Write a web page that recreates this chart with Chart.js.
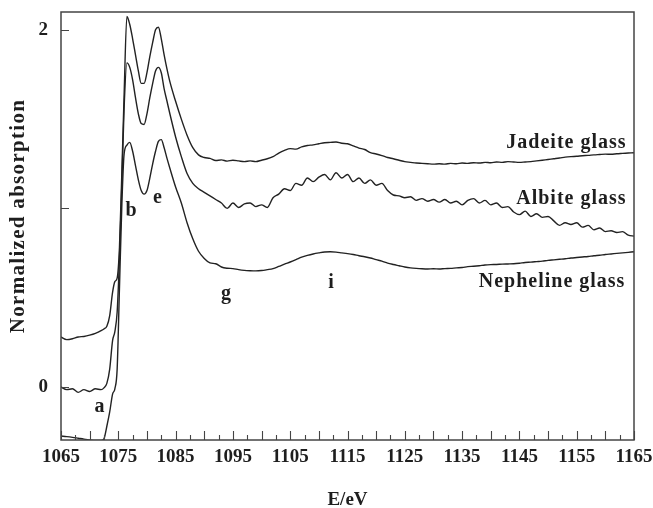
<!DOCTYPE html>
<html><head><meta charset="utf-8">
<script src="https://cdn.jsdelivr.net/npm/chart.js@4.4.1/dist/chart.umd.min.js"></script>
<style>html,body{margin:0;padding:0;background:#fff}canvas{display:block}</style>
</head><body>
<canvas id="c" width="653" height="508"></canvas>
<script>
// ---- data ----
const energy = [1065,1066,1067,1068,1069,1070,1071,1072,1072.5,1073,1073.5,1074,1074.4,1074.8,1075.2,1075.6,
  1076,1076.5,1077,1077.5,1078,1078.5,1079,1079.5,1080,1080.5,1081,1081.5,1082,1082.5,1083,1083.5,
  1084,1085,1086,1087,1088,1089,1090,
  1091,1092,1093,1094,1095,1096,1097,1098,1099,1100,1101,1102,1103,1104,1105,1106,1107,1108,1109,1110,
  1111,1112,1113,1114,1115,1116,1117,1118,1119,1120,1121,1122,1123,1124,1125,1126,1127,1128,1129,1130,
  1131,1132,1133,1134,1135,1136,1137,1138,1139,1140,1141,1142,1143,1144,1145,1146,1147,1148,1149,1150,
  1151,1152,1153,1154,1155,1156,1157,1158,1159,1160,1161,1162,1163,1164,1165];

const jadeite = [0.28,0.265,0.27,0.28,0.283,0.29,0.30,0.315,0.325,0.34,0.40,0.53,0.59,0.61,0.78,1.18,
  1.62,2.075,2.03,1.95,1.86,1.77,1.70,1.70,1.76,1.85,1.93,2.0,2.015,1.95,1.86,1.78,
  1.71,1.60,1.50,1.41,1.34,1.30,1.285,
  1.28,1.268,1.272,1.265,1.27,1.266,1.262,1.266,1.262,1.27,1.278,1.29,1.31,1.325,1.335,1.332,1.345,1.352,1.356,1.362,
  1.368,1.37,1.372,1.365,1.362,1.35,1.338,1.33,1.312,1.305,1.296,1.285,1.278,1.27,1.262,1.258,1.254,1.252,1.25,1.248,
  1.25,1.248,1.252,1.25,1.254,1.252,1.256,1.254,1.258,1.256,1.26,1.258,1.262,1.26,1.258,1.26,1.262,1.266,1.27,1.274,
  1.278,1.282,1.287,1.29,1.292,1.295,1.297,1.30,1.302,1.304,1.303,1.306,1.308,1.31,1.312];

const albite = [0.0,-0.015,-0.01,-0.03,-0.015,-0.025,-0.01,-0.015,-0.005,0.02,0.10,0.26,0.31,0.42,0.72,1.12,
  1.55,1.815,1.79,1.72,1.62,1.53,1.475,1.47,1.53,1.62,1.70,1.77,1.79,1.76,1.67,1.60,
  1.53,1.40,1.29,1.195,1.14,1.11,1.09,
  1.07,1.05,1.03,1.00,1.03,1.005,1.025,1.03,1.01,1.02,1.005,1.06,1.08,1.11,1.10,1.14,1.13,1.17,1.15,1.175,
  1.19,1.16,1.20,1.17,1.19,1.15,1.17,1.14,1.16,1.13,1.14,1.10,1.075,1.07,1.06,1.065,1.045,1.055,1.04,1.05,
  1.035,1.05,1.03,1.04,1.02,1.045,1.055,1.03,1.045,1.02,1.03,1.005,1.01,0.98,0.965,0.985,0.955,0.97,0.95,0.955,
  0.93,0.905,0.92,0.91,0.92,0.895,0.905,0.88,0.89,0.87,0.875,0.865,0.87,0.85,0.845];

const nepheline = [-0.275,-0.278,-0.282,-0.287,-0.292,-0.296,-0.30,-0.30,-0.29,-0.22,-0.14,-0.04,-0.01,0.10,0.55,1.0,
  1.30,1.355,1.37,1.32,1.24,1.16,1.10,1.08,1.10,1.17,1.25,1.32,1.375,1.385,1.34,1.28,
  1.225,1.12,1.03,0.92,0.83,0.76,0.72,
  0.695,0.69,0.672,0.665,0.663,0.657,0.653,0.651,0.65,0.652,0.657,0.663,0.675,0.688,0.70,0.713,0.727,0.737,0.745,0.751,
  0.756,0.757,0.755,0.751,0.747,0.742,0.735,0.729,0.722,0.713,0.705,0.694,0.686,0.679,0.672,0.667,0.664,0.662,0.661,0.662,
  0.661,0.663,0.664,0.667,0.669,0.674,0.676,0.679,0.683,0.685,0.686,0.688,0.689,0.69,0.693,0.697,0.699,0.702,0.705,0.709,
  0.712,0.715,0.718,0.722,0.725,0.728,0.731,0.735,0.738,0.742,0.745,0.748,0.751,0.754,0.757];

const xTickLabels = [1065,1075,1085,1095,1105,1115,1125,1135,1145,1155,1165];
const yTickLabels = [0, 2];
const yTickMarks = [0, 1, 2];
const seriesNames = ['Jadeite glass', 'Albite glass', 'Nepheline glass'];
// annotation texts anchored in data coordinates (E, absorption)
const peakNotes = [
  {t:'a', x:1071.8, y:-0.11},
  {t:'b', x:1077.3, y:0.985},
  {t:'e', x:1081.9, y:1.06},
  {t:'g', x:1093.9, y:0.52},
  {t:'i', x:1112.2, y:0.585}
];
const seriesNotes = [
  {x:1163.7, y:1.37},
  {x:1163.7, y:1.052},
  {x:1163.5, y:0.588}
];

// ---- drawing ----
const SERIF = '"Liberation Serif", "Times New Roman", serif';
const ink = '#222222';

const frame = {
  id: 'frame',
  afterDatasetsDraw(chart) {
    const {ctx, chartArea: a, scales: {x, y}} = chart;
    ctx.save();
    ctx.strokeStyle = '#444';
    ctx.lineWidth = 1.5;
    ctx.strokeRect(a.left, a.top, a.right - a.left, a.bottom - a.top);
    // inward x ticks: long every 5 eV, short every 2.5 eV
    ctx.lineWidth = 1.1;
    ctx.beginPath();
    for (let k = 0; k <= 40; k++) {
      const v = x.min + k * 2.5;
      const px = Math.round(x.getPixelForValue(v)) + 0.5;
      const len = (k % 2 === 0) ? 9 : 5;
      ctx.moveTo(px, a.bottom);
      ctx.lineTo(px, a.bottom - len);
    }
    // inward y ticks
    yTickMarks.forEach(v => {
      const py = Math.round(y.getPixelForValue(v)) + 0.5;
      ctx.moveTo(a.left, py);
      ctx.lineTo(a.left + 8, py);
    });
    ctx.stroke();
    // texts
    ctx.fillStyle = '#1e1e1e';
    ctx.font = 'bold 20px ' + SERIF;
    ctx.letterSpacing = '1px';
    ctx.textBaseline = 'middle';
    ctx.textAlign = 'center';
    peakNotes.forEach(n => ctx.fillText(n.t, x.getPixelForValue(n.x), y.getPixelForValue(n.y)));
    ctx.textAlign = 'right';
    seriesNotes.forEach((n, i) => ctx.fillText(seriesNames[i], x.getPixelForValue(n.x), y.getPixelForValue(n.y)));
    ctx.restore();
  }
};

const mk = (name, vals) => ({
  label: name,
  data: energy.map((e, i) => ({x: e, y: vals[i]})),
  borderColor: ink,
  borderWidth: 1.4,
  pointRadius: 0,
  cubicInterpolationMode: 'monotone',
  fill: false
});

const noPad = s => { s.paddingTop = 0; s.paddingBottom = 0; s.paddingLeft = 0; s.paddingRight = 0; };

new Chart(document.getElementById('c'), {
  type: 'line',
  data: { datasets: [mk(seriesNames[0], jadeite), mk(seriesNames[1], albite), mk(seriesNames[2], nepheline)] },
  options: {
    responsive: false,
    animation: false,
    devicePixelRatio: 1,
    layout: { padding: { top: 12, right: 19, left: 0, bottom: 0 } },
    plugins: { legend: { display: false }, tooltip: { enabled: false } },
    scales: {
      x: {
        type: 'linear', min: 1065, max: 1165,
        grid: { display: false, drawTicks: false },
        border: { display: false },
        afterBuildTicks: s => { s.ticks = xTickLabels.map(v => ({value: v})); },
        afterFit: s => { s.height = 68; noPad(s); },
        ticks: { color: '#1e1e1e', padding: 6, maxRotation: 0, font: { family: SERIF, size: 19, weight: 'bold' },
                 callback: v => String(v) },
        title: { display: true, text: 'E/eV', color: '#1e1e1e', padding: { top: 0, bottom: 0 },
                 font: { family: SERIF, size: 19, weight: 'bold', lineHeight: 0.8 } }
      },
      y: {
        type: 'linear', min: -0.297, max: 2.10,
        grid: { display: false, drawTicks: false },
        border: { display: false },
        afterBuildTicks: s => { s.ticks = yTickLabels.map(v => ({value: v})); },
        afterFit: s => {
          s.width = 61; noPad(s);
          if (!s._spaced) {
            const orig = s.drawTitle.bind(s);
            s.drawTitle = function () {
              this.ctx.save();
              this.ctx.letterSpacing = '1.3px';
              this.ctx.translate(0, -10);
              orig();
              this.ctx.restore();
            };
            s._spaced = true;
          }
        },
        ticks: { color: '#1e1e1e', padding: 13, font: { family: SERIF, size: 19, weight: 'bold' },
                 callback: v => String(v) },
        title: { display: true, text: 'Normalized absorption', color: '#1e1e1e', padding: { top: 6, bottom: 0 },
                 font: { family: SERIF, size: 21, weight: 'bold' } }
      }
    }
  },
  plugins: [frame]
});
</script>
</body></html>
